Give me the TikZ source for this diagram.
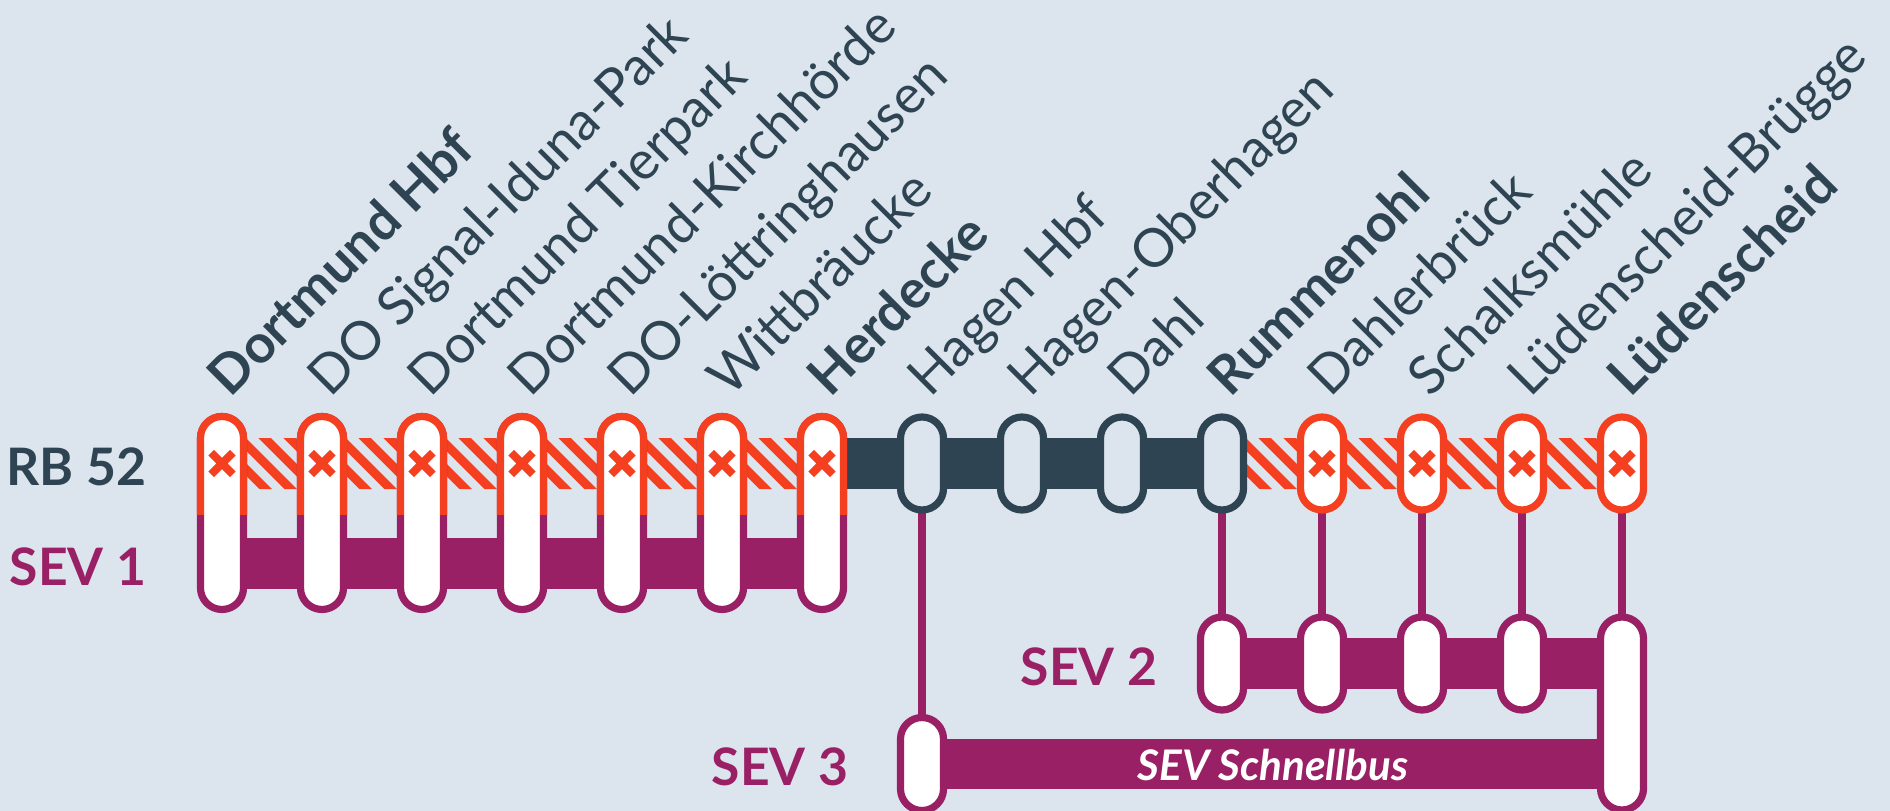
\documentclass[tikz,border=0pt]{standalone}
\usepackage{fontspec}
\setmainfont{Lato}
\usetikzlibrary{backgrounds}

\definecolor{paper}{HTML}{DCE5ED}
\definecolor{slate}{HTML}{2E4452}
\definecolor{signal}{HTML}{F44021}
\definecolor{sevpurple}{HTML}{9A2066}

\tikzset{
  stop/.style={draw=#1, rectangle, fill=white, line width=0.72mm, inner sep=0, outer sep=0,
    minimum width=4.3mm, minimum height=9.3mm, rounded corners=2.15mm},
  stoptall/.style={stop=#1, minimum height=19.3mm},
  stopname/.style={anchor=base west, rotate=45, inner sep=0, text=slate, font=\fontsize{15.2}{18}\selectfont},
  linename/.style={anchor=base east, inner sep=0, font=\fontsize{14.7}{18}\selectfont\bfseries},
  band/.style={line width=5.05mm},
  feeder/.style={sevpurple, line width=0.72mm}
}

\begin{document}
\begin{tikzpicture}[x=0.1mm, y=-0.1mm]
    \useasboundingbox (0, 0) rectangle (1890, 811);
    \clip (0, 0) rectangle (1890, 811);
    \begin{scope}[on background layer]
      \fill[paper] (0, 0) rectangle (1890, 811);
    \end{scope}

    \coordinate (rbline) at (0, 463.5);
    \coordinate (sevone) at (0, 563.5);
    \coordinate (sevtwo) at (0, 663.5);
    \coordinate (sevfast) at (0, 764);

    % station names
    \foreach \i/\name in {1/{\bfseries Dortmund Hbf}, 2/DO Signal-Iduna-Park, 3/Dortmund Tierpark,
        4/Dortmund-Kirchhörde, 5/DO-Löttringhausen, 6/Wittbräucke, 7/{\bfseries Herdecke},
        8/Hagen Hbf, 9/Hagen-Oberhagen, 10/Dahl, 11/{\bfseries Rummenohl}, 12/Dahlerbrück,
        13/Schalksmühle, 14/Lüdenscheid-Brügge, 15/{\bfseries Lüdenscheid}}
      \node[stopname] (n\i) at ({130+100*\i}, 399) {\name};

    % closed stops with replacement bus below
    \foreach \i in {1,...,7} {
      \node[stoptall=sevpurple] (s\i) at ({122+100*\i}, 513) {};
      \begin{scope}
        \clip (0, 400) rectangle (1890, 514);
        \node[stoptall=signal] (r\i) at ({122+100*\i}, 513) {};
      \end{scope}
    }
    % open stops
    \foreach \i in {8,...,11}
      \node[stop=slate, fill=paper] (r\i) at ({122+100*\i}, 463.5) {};
    % closed stops
    \foreach \i in {12,...,15}
      \node[stop=signal] (r\i) at ({122+100*\i}, 463.5) {};
    \foreach \i in {1,2,...,7,12,13,14,15}
      \draw[signal, line width=0.8mm] ({122+100*\i-10.8}, 452.7) -- ++(21.6, 21.6)
        ({122+100*\i+10.8}, 452.7) -- ++(-21.6, 21.6);

    % bus stops
    \foreach \i in {11,...,14}
      \node[stop=sevpurple] (b\i) at ({122+100*\i}, 663.5) {};
    \node[stoptall=sevpurple] (b15) at (1622, 713.5) {};
    \node[stop=sevpurple] (b8) at (922, 764) {};

    \begin{scope}[on background layer]
      \begin{scope}
        \clip (r1 |- 0,438) rectangle (r7 |- 0,489) (r11 |- 0,438) rectangle (r15 |- 0,489);
        \foreach \x in {183.3,208.3,...,1650}
          \fill[signal] (\x, 438) -- ++(12.5, 0) -- ++(51, 51) -- ++(-12.5, 0) -- cycle;
      \end{scope}
      \draw[band, slate] (r7 |- rbline) -- (r11 |- rbline);
      \draw[band, sevpurple] (s1 |- sevone) -- (s7 |- sevone);
      \draw[band, sevpurple] (b11) -- (b15 |- sevtwo);
      \draw[band, sevpurple] (b8) -- (b15 |- sevfast);
      \draw[feeder] (r8) -- (b8);
      \foreach \i in {11,...,15}
        \draw[feeder] (r\i) -- (b\i);
    \end{scope}

    % line names
    \node[linename, text=slate] (rb) at (147, 485) {RB 52};
    \node[linename, text=sevpurple] (sev1) at (147, 585) {SEV 1};
    \node[linename, text=sevpurple] (sev2) at (1158, 685) {SEV 2};
    \node[linename, text=sevpurple] (sev3) at (849, 785) {SEV 3};
    \node[inner sep=0, text=white, font=\fontsize{12}{14}\selectfont\bfseries\itshape] (fast) at (1273, 765) {SEV Schnellbus};
  \end{tikzpicture}
\end{document}
